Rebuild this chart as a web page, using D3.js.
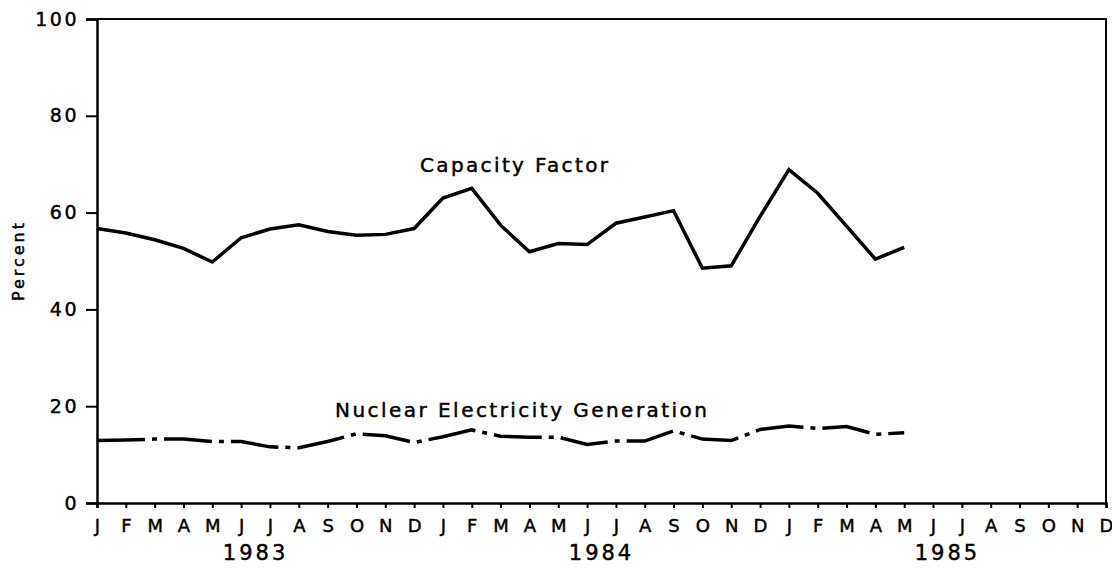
<!DOCTYPE html>
<html>
<head>
<meta charset="utf-8">
<script src="https://cdn.jsdelivr.net/npm/d3@7"></script>
<style>
  html, body { margin: 0; padding: 0; background: #fff; }
  svg { display: block; }
  text { font-family: "DejaVu Sans", sans-serif; fill: #000; stroke: #000; stroke-width: 0.45px; }
</style>
</head>
<body>
<script>
// Monthly series, January 1983 through May 1985
const months = ["J","F","M","A","M","J","J","A","S","O","N","D"];
const years = ["1983", "1984", "1985"];
const capacityFactor = [
  56.7, 55.8, 54.4, 52.6, 49.8, 54.8, 56.6, 57.5, 56.1, 55.3, 55.5, 56.7,
  63.0, 65.0, 57.4, 51.9, 53.6, 53.4, 57.8, 59.1, 60.4, 48.5, 49.0, 59.2,
  68.9, 64.0, 57.2, 50.4, 52.8
];
const nuclearGeneration = [
  12.9, 13.0, 13.2, 13.2, 12.7, 12.7, 11.6, 11.4, 12.7, 14.3, 13.9, 12.5,
  13.7, 15.1, 13.8, 13.6, 13.6, 12.1, 12.8, 12.8, 14.9, 13.2, 12.9, 15.2,
  15.9, 15.4, 15.8, 14.2, 14.5
];
const yTicks = [0, 20, 40, 60, 80, 100];

const W = 1112, H = 568;
const plot = { left: 97, right: 1106, top: 19, bottom: 503 };
const nMonths = 36;

const svg = d3.select("body").append("svg").attr("width", W).attr("height", H);

const x = d3.scaleLinear().domain([0, nMonths - 1]).range([plot.left, plot.right]);
const y = d3.scaleLinear().domain([0, 100]).range([plot.bottom, plot.top]);

// Frame: top and right edges
svg.append("path")
  .attr("d", `M${plot.left},${plot.top}H${plot.right}V${plot.bottom}`)
  .attr("fill", "none").attr("stroke", "#000").attr("stroke-width", 2);

// Y axis
const yAxis = svg.append("g").attr("transform", `translate(${plot.left},0)`)
  .call(d3.axisLeft(y).tickValues(yTicks).tickSize(11).tickPadding(7).tickFormat(d3.format("d")));
yAxis.select(".domain").attr("stroke-width", 2.5);
yAxis.selectAll(".tick line").attr("stroke-width", 2);
yAxis.selectAll(".tick text")
  .style("font-size", "19px").style("letter-spacing", "2.5px");

// X axis: monthly ticks, letters under each
const monthIdx = d3.range(nMonths);
const xAxis = svg.append("g").attr("transform", `translate(0,${plot.bottom})`)
  .call(d3.axisBottom(x).tickValues(monthIdx).tickSize(5).tickPadding(11)
    .tickFormat(i => months[i % 12]));
xAxis.select(".domain").attr("stroke-width", 2.5);
xAxis.selectAll(".tick line").attr("stroke-width", 2);
xAxis.selectAll(".tick text").style("font-size", "18px");

// Year labels centred under each June/July pair
svg.append("g").selectAll("text").data(years).join("text")
  .attr("x", (d, i) => x(i * 12 + 5.5))
  .attr("y", 560)
  .attr("text-anchor", "middle")
  .style("font-size", "21px")
  .style("letter-spacing", "3px")
  .text(d => d);

// Y axis title
svg.append("text")
  .attr("transform", "translate(24,262) rotate(-90)")
  .attr("text-anchor", "middle")
  .style("font-size", "16px")
  .attr("textLength", 78)
  .text("Percent");

const line = d3.line().x((d, i) => x(i)).y(d => y(d));

// Capacity factor (solid)
svg.append("path")
  .datum(capacityFactor)
  .attr("d", line)
  .attr("fill", "none").attr("stroke", "#000")
  .attr("stroke-width", 3.5).attr("stroke-linejoin", "miter");

// Nuclear electricity generation (dash-dot)
svg.append("path")
  .datum(nuclearGeneration)
  .attr("d", line)
  .attr("fill", "none").attr("stroke", "#000")
  .attr("stroke-width", 3.5)
  .attr("stroke-dasharray", "48,7,5,7");

// Series labels
svg.append("text")
  .attr("x", 420).attr("y", 172)
  .style("font-size", "20px")
  .attr("textLength", 188).attr("lengthAdjust", "spacing")
  .text("Capacity Factor");

svg.append("text")
  .attr("x", 335).attr("y", 417)
  .style("font-size", "20px")
  .attr("textLength", 372).attr("lengthAdjust", "spacing")
  .text("Nuclear Electricity Generation");
</script>
</body>
</html>
